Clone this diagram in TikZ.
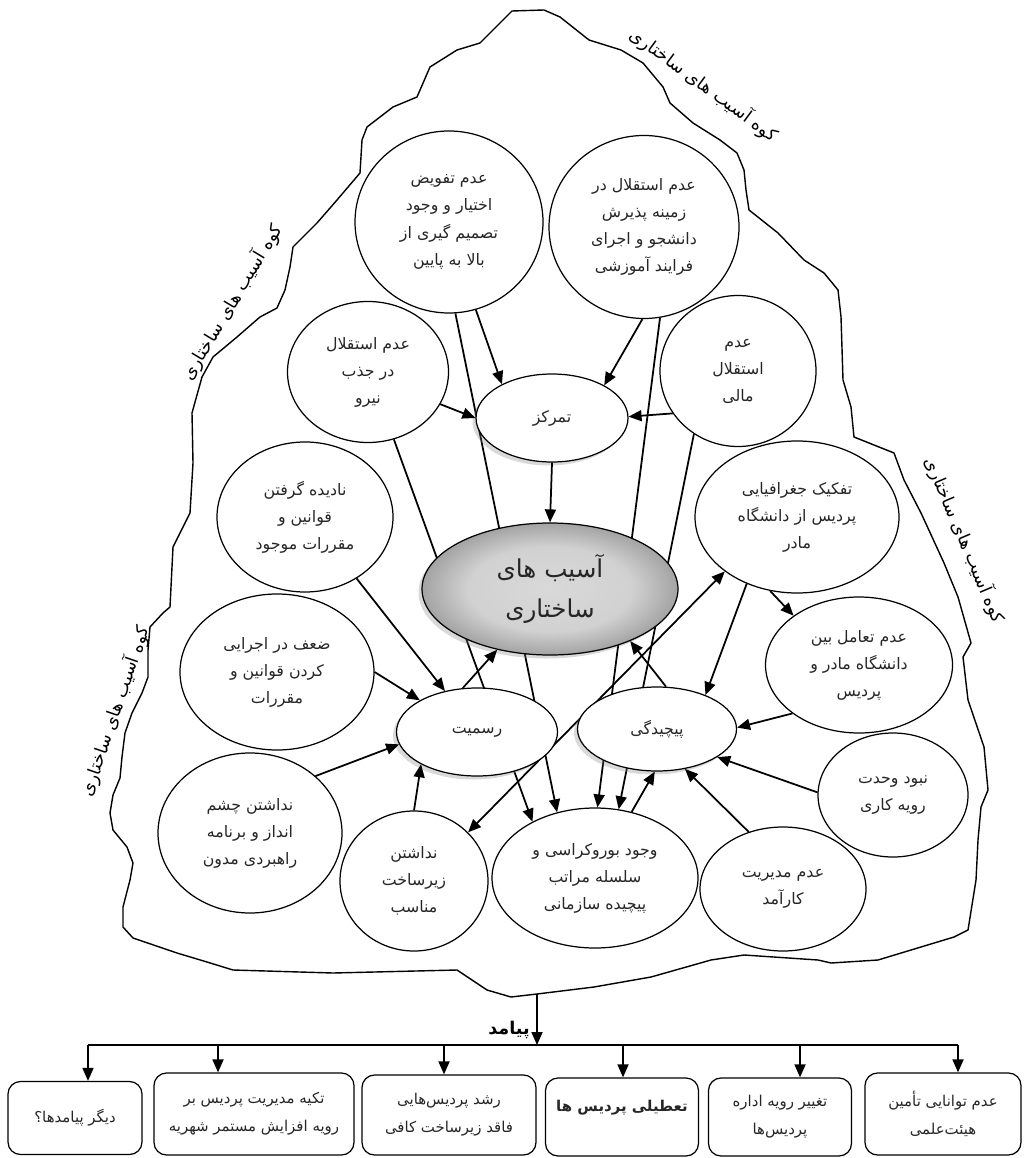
\documentclass[tikz,border=0pt]{standalone}
\usepackage{fontspec}
\newfontfamily\farsi[Script=Arabic]{DejaVu Sans}
\TeXXeTstate=1
\usetikzlibrary{shapes.geometric,arrows.meta,shadows,backgrounds}
\newcommand{\rl}[1]{\beginR #1\endR}
\pgfdeclareradialshading{asibshade}{\pgfpoint{0bp}{0bp}}{color(0bp)=(gray!30); color(16bp)=(gray!36); color(25bp)=(gray!72); color(50bp)=(gray!72)}

\begin{document}
\begin{tikzpicture}[x=0.02cm, y=-0.02cm,
    cause/.style={draw, ellipse, fill=white, align=center, inner sep=0pt, line width=0.7pt, text=black!85, font=\farsi\fontsize{9}{15.4}\selectfont},
    sz/.style 2 args={minimum width=#1*0.02cm, minimum height=#2*0.02cm},
    shad/.style={drop shadow={shadow xshift=-0.07cm, shadow yshift=-0.07cm, opacity=0.3}},
    arr/.style={-{Triangle[length=2.6mm, width=2.2mm]}, line width=1pt},
    twoway/.style={{Triangle[length=2.6mm, width=2.2mm]}-{Triangle[length=2.6mm, width=2.2mm]}, line width=1pt},
    outcome/.style={draw, rounded corners=2.5mm, align=center, inner sep=0pt, line width=0.7pt, text=black!85, font=\farsi\fontsize{8.5}{16}\selectfont},
    kuh/.style={font=\farsi\fontsize{10}{12}\selectfont, inner sep=1pt}]
    \useasboundingbox (0, 0) rectangle (1023, 1158);

    \draw[line width=0.8pt, line join=round] (512, 11) -- (544, 10) -- (560, 17) -- (589, 40) -- (621, 50) -- (643, 63) -- (663, 87) -- (670, 103) -- (693, 123) -- (720, 140) -- (737, 153) -- (744, 170) -- (746, 190) -- (749, 210) -- (778, 233) -- (804, 260) -- (824, 273) -- (838, 290) -- (841, 317) -- (843, 380) -- (851, 407) -- (854, 437) -- (894, 453) -- (904, 480) -- (921, 513) -- (944, 563) -- (958, 597) -- (971, 643) -- (963, 657) -- (968, 700) -- (984, 747) -- (988, 790) -- (981, 807) -- (978, 840) -- (976, 880) -- (968, 930) -- (954, 937) -- (911, 950) -- (878, 960) -- (831, 963) -- (818, 960) -- (744, 955) -- (711, 960) -- (651, 977) -- (594, 987) -- (537, 994) -- (511, 997) -- (487, 990) -- (457, 970) -- (333, 973) -- (233, 970) -- (207, 962) -- (177, 953) -- (133, 938) -- (123, 927) -- (123, 907) -- (130, 880) -- (133, 863) -- (127, 847) -- (113, 830) -- (110, 813) -- (113, 795) -- (120, 778) -- (122, 757) -- (125, 733) -- (132, 713) -- (142, 693) -- (148, 677) -- (148, 650) -- (150, 627) -- (163, 613) -- (170, 607) -- (173, 547) -- (190, 513) -- (193, 463) -- (192, 413) -- (202, 377) -- (213, 357) -- (237, 337) -- (260, 317) -- (277, 308) -- (285, 290) -- (290, 267) -- (293, 247) -- (317, 223) -- (337, 200) -- (360, 173) -- (362, 140) -- (367, 127) -- (393, 107) -- (417, 97) -- (430, 67) -- (457, 50) -- (480, 43) -- cycle;
    \coordinate (mtbase) at (537, 994);

    \draw (704, 85) node[kuh, rotate=-36.4] (kuhtop) {\rl{کوه آسیب های ساختاری}};
    \draw (232, 302) node[kuh, rotate=59] (kuhleft) {\rl{کوه آسیب های ساختاری}};
    \draw (965, 540) node[kuh, rotate=-67] (kuhright) {\rl{کوه آسیب های ساختاری}};
    \draw (115, 711) node[kuh, rotate=71] (kuhlow) {\rl{کوه آسیب های ساختاری}};

    \draw (449, 222) node[cause, sz={188}{182}] (tafviz) {\rl{عدم تفویض}\\\rl{اختیار و وجود}\\\rl{تصمیم گیری از}\\\rl{بالا به پایین}};
    \draw (644, 227) node[cause, sz={190}{183}] (paziresh) {\rl{عدم استقلال در}\\\rl{زمینه پذیرش}\\\rl{دانشجو و اجرای}\\\rl{فرایند آموزشی}};
    \draw (368, 372) node[cause, sz={161}{141}] (jazb) {\rl{عدم استقلال}\\\rl{در جذب}\\\rl{نیرو}};
    \draw (738, 371) node[cause, sz={156}{151}] (mali) {\rl{عدم}\\\rl{استقلال}\\\rl{مالی}};
    \draw (552, 418) node[cause, shad, sz={152}{88}] (tamarkoz) {\rl{تمرکز}};
    \draw (550, 589) node[cause, shad, shading=asibshade, sz={256}{132}, font=\farsi\fontsize{14}{22.8}\selectfont] (asib) {\rl{آسیب های}\\\rl{ساختاری}};
    \draw (305, 517) node[cause, sz={176}{150}] (nadide) {\rl{نادیده گرفتن}\\\rl{قوانین و}\\\rl{مقررات موجود}};
    \draw (797, 517) node[cause, sz={204}{152}] (tafkik) {\rl{تفکیک جغرافیایی}\\\rl{پردیس از دانشگاه}\\\rl{مادر}};
    \draw (277, 672) node[cause, sz={194}{156}] (zaaf) {\rl{ضعف در اجرایی}\\\rl{کردن قوانین و}\\\rl{مقررات}};
    \draw (477, 732) node[cause, shad, sz={161}{88}] (rasmiyat) {\rl{رسمیت}};
    \draw (657, 729) node[cause, shad, sz={159}{84}] (pichidegi) {\rl{پیچیدگی}};
    \draw (859, 665) node[cause, sz={187}{136}] (taamol) {\rl{عدم تعامل بین}\\\rl{دانشگاه مادر و}\\\rl{پردیس}};
    \draw (893, 795) node[cause, sz={150}{124}] (vahdat) {\rl{نبود وحدت}\\\rl{رویه کاری}};
    \draw (250, 833) node[cause, sz={184}{160}] (cheshm) {\rl{نداشتن چشم}\\\rl{انداز و برنامه}\\\rl{راهبردی مدون}};
    \draw (414, 881) node[cause, sz={148}{140}] (zirsakht) {\rl{نداشتن}\\\rl{زیرساخت}\\\rl{مناسب}};
    \draw (595, 878) node[cause, sz={206}{140}] (burokrasi) {\rl{وجود بوروکراسی و}\\\rl{سلسله مراتب}\\\rl{پیچیده سازمانی}};
    \draw (783, 889) node[cause, sz={166}{124}] (modiriat) {\rl{عدم مدیریت}\\\rl{کارآمد}};

    \begin{pgfonlayer}{background}
        \draw[arr] (tafviz.274) -- (burokrasi.120);
        \draw[arr] (paziresh.280) -- (burokrasi.88);
        \draw[arr] (jazb.291) -- (burokrasi.138);
        \draw[arr] (mali.235) -- (burokrasi.71);
        \draw[twoway] (zirsakht.42) -- (tafkik.217);
    \end{pgfonlayer}

    \draw[arr] (tafviz.287) -- (tamarkoz.146);
    \draw[arr] (paziresh.269) -- (tamarkoz.32);
    \draw[arr] (jazb.336) -- (tamarkoz.180);
    \draw[arr] (mali.213) -- (tamarkoz.1);
    \draw[arr] (tamarkoz.south) -- (asib.north);
    \draw[arr] (nadide.310) -- (rasmiyat.128);
    \draw[arr] (zaaf.0) -- (rasmiyat.151);
    \draw[arr] (cheshm.41) -- (rasmiyat.189);
    \draw[arr] (zirsakht.90) -- (rasmiyat.210);
    \draw[arr] (rasmiyat.108) -- (asib.229);
    \draw[arr] (pichidegi.78) -- (asib.327);
    \draw[arr] (tafkik.233) -- (pichidegi.35);
    \draw[arr] (tafkik.250) -- (taamol.143);
    \draw[arr] (taamol.216) -- (pichidegi.1);
    \draw[arr] (vahdat.178) -- (pichidegi.335);
    \draw[arr] (modiriat.121) -- (pichidegi.305);
    \draw[arr] (burokrasi.61) -- (pichidegi.267);

    \coordinate (hub) at (537, 1045);
    \draw[arr] (mtbase) -- (hub);
    \draw (509, 1030) node[font=\farsi\bfseries\fontsize{10}{12}\selectfont] (payamad) {\rl{پیامد}};

    \draw (75, 1118) node[outcome, sz={134}{73}] (digar) {\rl{دیگر پیامدها؟}};
    \draw (254, 1114) node[outcome, sz={200}{82}] (shahriye) {\rl{تکیه مدیریت پردیس بر}\\\rl{رویه افزایش مستمر شهریه}};
    \draw (449, 1115) node[outcome, sz={174}{80}] (roshd) {\rl{رشد پردیس‌هایی}\\\rl{فاقد زیرساخت کافی}};
    \draw (622, 1117) node[outcome, sz={153}{78}, font=\farsi\bfseries\fontsize{8.5}{16}\selectfont, text depth=0.45cm] (tatili) {\rl{تعطیلی پردیس ها}};
    \draw (780, 1117) node[outcome, sz={143}{78}] (taghyir) {\rl{تغییر رویه اداره}\\\rl{پردیس‌ها}};
    \draw (943, 1114) node[outcome, sz={156}{82}] (heyat) {\rl{عدم توانایی تأمین}\\\rl{هیئت‌علمی}};

    \coordinate (ba) at (88, 1045);
    \coordinate (bb) at (218, 1045);
    \coordinate (bc) at (444, 1045);
    \coordinate (bd) at (623, 1045);
    \coordinate (be) at (800, 1045);
    \coordinate (bf) at (958, 1045);
    \draw[line width=1pt] (ba) -- (bf);
    \draw[arr] (ba) -- (ba |- digar.north);
    \draw[arr] (bb) -- (bb |- shahriye.north);
    \draw[arr] (bc) -- (bc |- roshd.north);
    \draw[arr] (bd) -- (bd |- tatili.north);
    \draw[arr] (be) -- (be |- taghyir.north);
    \draw[arr] (bf) -- (bf |- heyat.north);
\end{tikzpicture}
\end{document}
